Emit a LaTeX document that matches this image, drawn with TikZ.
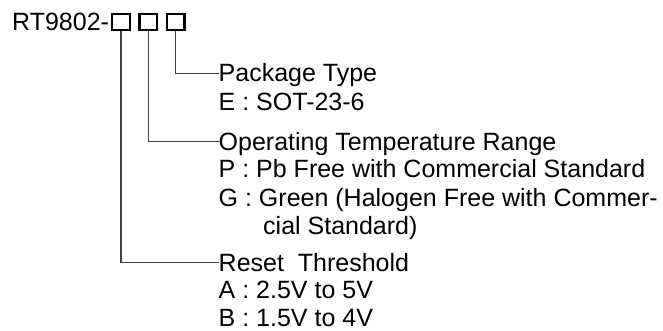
\documentclass[tikz,border=0pt]{standalone}
\usepackage{fontspec}
\setmainfont{Liberation Sans}
\usetikzlibrary{positioning}

\begin{document}
\begin{tikzpicture}[
    x=1pt, y=-1pt,
    node distance=7.5pt,
    digit/.style={draw, line width=2.4pt, minimum width=17.5pt, minimum height=16pt, inner sep=0},
    item/.style={anchor=base west, inner sep=0, font=\fontsize{25}{28}\selectfont},
    lead/.style={draw=black!75, line width=1.3pt}
]
\useasboundingbox (0,0) rectangle (663,331);

\node[item] (part) at (12,31) {RT9802-};
\node[digit] (d1) at (121,22) {};
\node[digit, right=of d1] (d2) {};
\node[digit, right=of d2] (d3) {};

% package
\node[item] (pkg) at (218.5,82) {Package Type};
\node[item] (pkgE) at (218.5,111) {E : SOT-23-6};
% temperature
\node[item] (temp) at (218.5,150) {Operating Temperature Range};
\node[item] (tempP) at (218.5,178) {P : Pb Free with Commercial Standard};
\node[item] (tempG) at (218.5,206) {G : Green (Halogen Free with Commer-};
\node[item] (tempG2) at (263,234) {cial Standard)};
% threshold
\node[item] (thr) at (218.5,271) {Reset\ \ Threshold};
\node[item] (thrA) at (218.5,298.5) {A : 2.5V to 5V};
\node[item] (thrB) at (218.5,326) {B : 1.5V to 4V};

\draw[lead] (d3.south) |- ([yshift=8.5pt]pkg.base west);
\draw[lead] (d2.south) |- ([yshift=8.5pt]temp.base west);
\draw[lead] (d1.south) |- ([yshift=8.5pt]thr.base west);
\end{tikzpicture}
\end{document}
